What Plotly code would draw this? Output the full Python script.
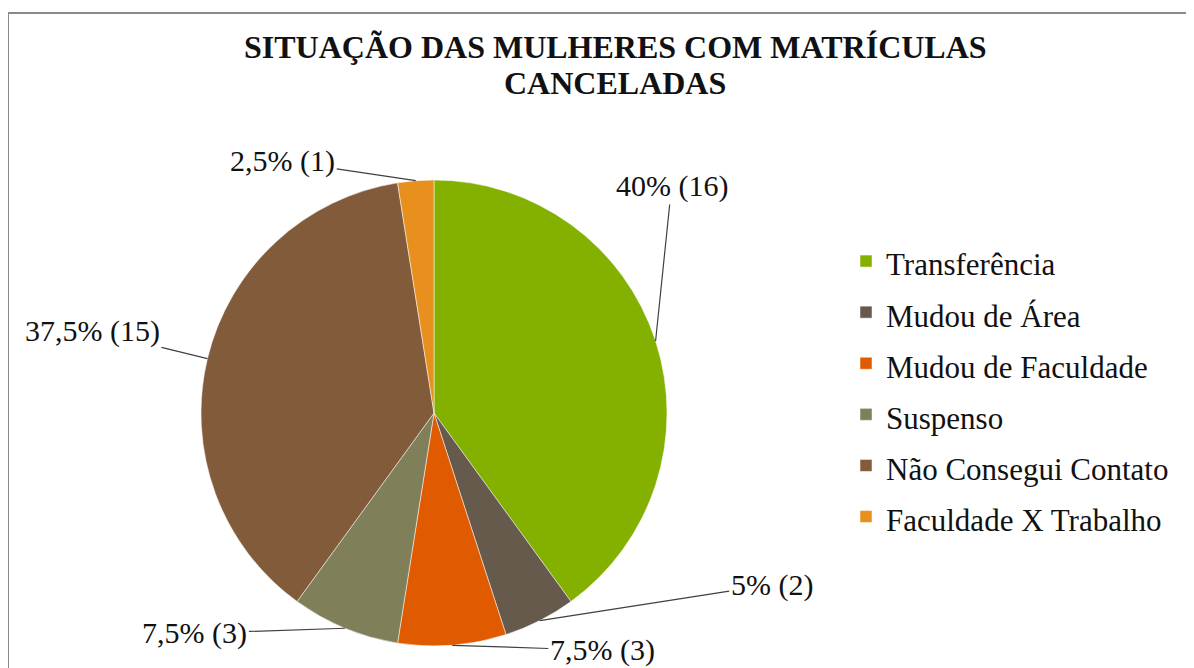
import math
import plotly.graph_objects as go

# ---- data ----
categories = ["Transferência", "Mudou de Área", "Mudou de Faculdade",
              "Suspenso", "Não Consegui Contato", "Faculdade X Trabalho"]
counts = [16, 2, 3, 3, 15, 1]
colors = ["#84B000", "#665A4D", "#E05A00", "#7F805A", "#825C3A", "#E8901E"]
title_lines = ["SITUAÇÃO DAS MULHERES COM MATRÍCULAS", "CANCELADAS"]
# label offsets (pixels) from slice edge to label centre - styling only
label_offsets = [(16, -155), (232, -36), (150, 5), (-150, 5), (-115, -28), (-133, -20)]

W, H = 1194, 668          # reference picture size
OFF = 8                   # page body margin
FW, FH = W - OFF, H - OFF  # figure size
CX, CY, R = 434, 413, 233  # pie centre / radius in reference pixels


def px(x):
    return (x - OFF) / FW


def py(y):
    return 1 - (y - OFF) / FH


total = sum(counts)


def pct_text(v):
    p = v / total * 100
    s = f"{p:.1f}".rstrip("0").rstrip(".")
    return s.replace(".", ",") + "%"


legend_labels = [f'<span style="font-size:31px">{c}</span>' for c in categories]

fig = go.Figure()
fig.add_trace(go.Pie(
    labels=legend_labels,
    values=counts,
    marker=dict(colors=colors, line=dict(color="white", width=0.5)),
    sort=False,
    direction="clockwise",
    rotation=0,
    textinfo="none",
    hoverinfo="label+value+percent",
    domain=dict(x=[px(CX - R), px(CX + R)],
                y=[py(CY + R), py(CY - R)]),
))

annotations = []
cum = 0
for v, (ax, ay) in zip(counts, label_offsets):
    mid = (cum + v / 2) / total * 2 * math.pi
    cum += v
    x = CX + R * math.sin(mid)
    y = CY - R * math.cos(mid)
    annotations.append(dict(
        x=px(x), y=py(y), xref="paper", yref="paper",
        text=f"{pct_text(v)} ({v})",
        showarrow=True, arrowhead=0, arrowwidth=1.2, arrowcolor="#404040",
        standoff=0, ax=ax, ay=ay,
        font=dict(family="Liberation Serif", size=30, color="#111111"),
    ))

for txt, ty in zip(title_lines, [47, 83]):
    annotations.append(dict(
        x=px(615), y=py(ty), xref="paper", yref="paper",
        text=f"<b>{txt}</b>",
        showarrow=False, xanchor="center", yanchor="middle",
        font=dict(family="Liberation Serif", size=32, color="#111111"),
    ))

fig.update_layout(
    width=FW, height=FH,
    margin=dict(l=0, r=0, t=0, b=0),
    paper_bgcolor="white", plot_bgcolor="white",
    showlegend=True,
    legend=dict(x=px(846), y=py(389), xanchor="left", yanchor="middle",
                font=dict(family="Liberation Serif", size=37, color="#111111"),
                bgcolor="rgba(0,0,0,0)"),
    annotations=annotations,
    shapes=[dict(type="rect", xref="paper", yref="paper",
                 x0=px(8), x1=px(1190), y0=-0.05, y1=py(13),
                 line=dict(color="#8A8A8A", width=2), layer="below")],
)

fig.write_html("out.html")
